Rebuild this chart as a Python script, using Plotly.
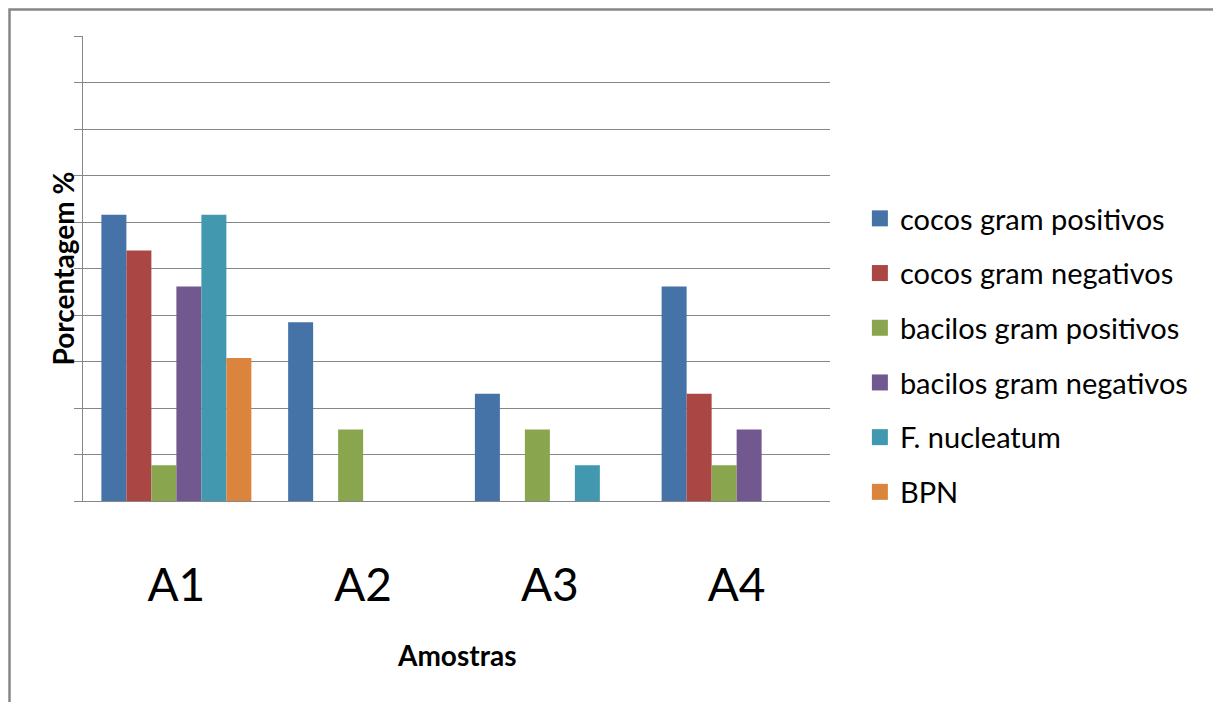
import plotly.graph_objects as go

categories = ["A1", "A2", "A3", "A4"]
series_names = ["cocos gram positivos", "cocos gram negativos", "bacilos gram positivos",
                "bacilos gram negativos", "F. nucleatum", "BPN"]
cocos_gram_pos = [61.54, 38.46, 23.08, 46.15]
cocos_gram_neg = [53.85, None, None, 23.08]
bacilos_gram_pos = [7.69, 15.38, 15.38, 7.69]
bacilos_gram_neg = [46.15, None, None, 15.38]
f_nucleatum = [61.54, None, 7.69, None]
bpn = [30.77, None, None, None]
colors = ["#4572A7", "#AA4643", "#89A54E", "#71588F", "#4198AF", "#DB843D"]

values = [cocos_gram_pos, cocos_gram_neg, bacilos_gram_pos, bacilos_gram_neg, f_nucleatum, bpn]

FONT = "Lato, 'Open Sans', sans-serif"
GRID = "#868686"

# page body has an 8px margin, so positions are shifted by -8
OFF = 8
L, T, PW, PH = 83 - OFF, 36 - OFF, 747, 465
W, H = 1221 - OFF, 702 - OFF
BASE = 501  # reference y of baseline

fig = go.Figure()
for name, vals, col in zip(series_names, values, colors):
    fig.add_trace(go.Bar(x=categories, y=vals, name=name, marker_color=col,
                         marker_line_width=0, showlegend=False))
for name, col in zip(series_names, colors):
    fig.add_trace(go.Scatter(x=[None], y=[None], mode="markers", name=name,
                             legendgroup=name,
                             marker=dict(symbol="square", size=17, color=col)))

fig.update_layout(
    width=W, height=H,
    margin=dict(l=L, r=W - L - PW, t=T, b=H - T - PH, autoexpand=False),
    paper_bgcolor="white", plot_bgcolor="white",
    barmode="group", bargap=0.197, bargroupgap=0,
    font=dict(family=FONT, color="black"),
    showlegend=True,
    legend=dict(x=1.04, y=(BASE - 193) / PH, xanchor="left", yanchor="top",
                font=dict(size=29, family=FONT, color="black"),
                tracegroupgap=14, bgcolor="rgba(0,0,0,0)"),
    xaxis=dict(type="category", showline=True, linecolor=GRID, linewidth=1.3,
               ticks="", showgrid=False, tickfont=dict(size=46, family=FONT),
               ticklabelstandoff=44),
    yaxis=dict(range=[0, 100], dtick=10, showgrid=True, gridcolor=GRID, gridwidth=1.3,
               showline=True, linecolor=GRID, linewidth=1.3, ticks="outside", ticklen=8,
               tickcolor=GRID, tickwidth=1.3, showticklabels=False, zeroline=False),
    annotations=[
        dict(text="<b>Porcentagem %</b>", xref="paper", yref="paper",
             x=(62 - 83) / PW, y=0.5, xanchor="center", yanchor="middle",
             textangle=-90, showarrow=False, font=dict(size=28, family=FONT)),
        dict(text="<b>Amostras</b>", xref="paper", yref="paper",
             x=0.5, y=(BASE - 655) / PH, xanchor="center", yanchor="middle",
             showarrow=False, font=dict(size=28, family=FONT)),
    ],
    shapes=[dict(type="rect", xref="paper", yref="paper",
                 x0=(9.5 - 83) / PW, x1=(1219 - 83) / PW,
                 y0=(BASE - 720) / PH, y1=(BASE - 9.5) / PH,
                 line=dict(color=GRID, width=2.5), fillcolor="rgba(0,0,0,0)")],
)

fig.write_html("out.html")
